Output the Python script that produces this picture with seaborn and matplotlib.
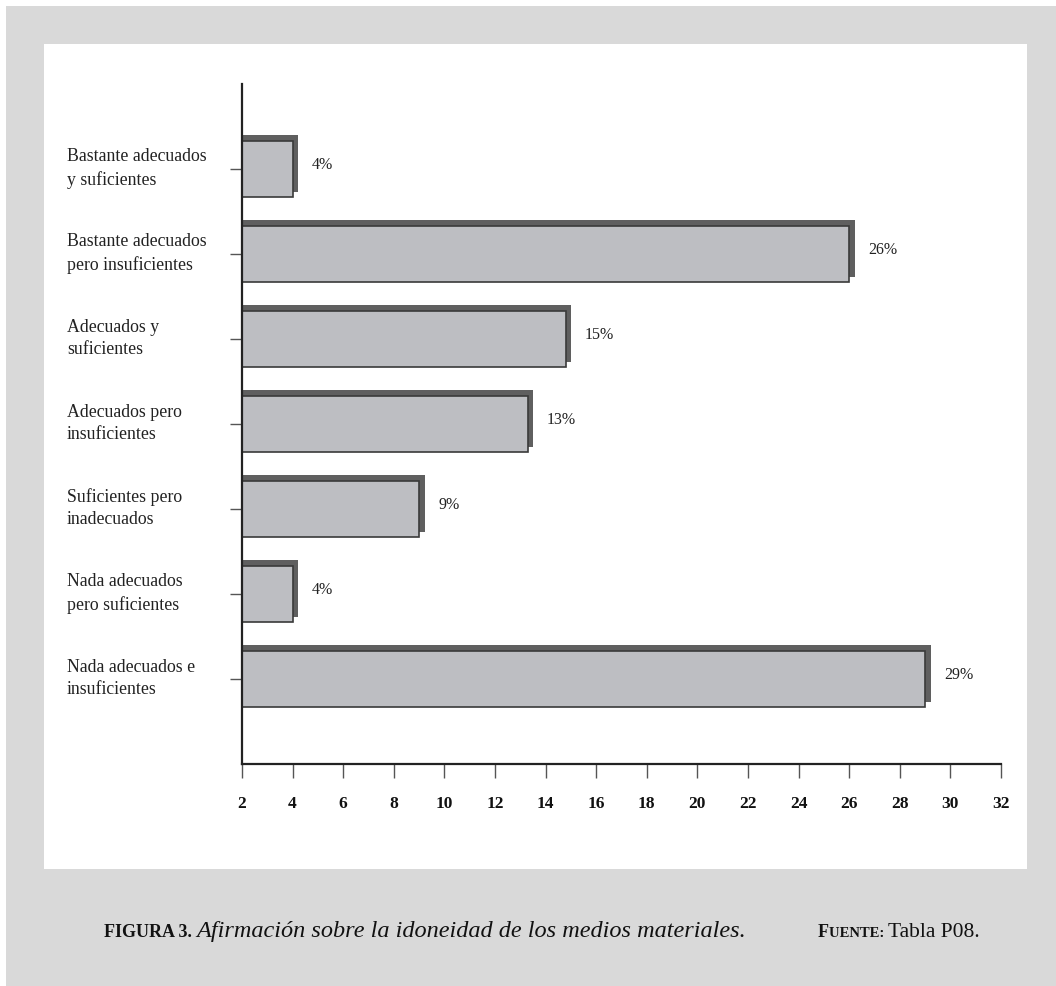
import matplotlib
matplotlib.use("Agg")
import matplotlib.pyplot as plt
import matplotlib.transforms as mtransforms
from matplotlib.patches import Rectangle
import pandas as pd
import seaborn as sns

# Data
categories = [
    "Bastante adecuados\ny suficientes",
    "Bastante adecuados\npero insuficientes",
    "Adecuados y\nsuficientes",
    "Adecuados pero\ninsuficientes",
    "Suficientes pero\ninadecuados",
    "Nada adecuados\npero suficientes",
    "Nada adecuados e\ninsuficientes",
]
bar_lengths = [4, 26, 14.8, 13.3, 9, 4, 29]
bar_labels = ["4%", "26%", "15%", "13%", "9%", "4%", "29%"]
x_ticks = [2, 4, 6, 8, 10, 12, 14, 16, 18, 20, 22, 24, 26, 28, 30, 32]

df = pd.DataFrame({"categoria": categories, "porcentaje": bar_lengths})

sns.set_style("white")
plt.rcParams["font.family"] = ["Liberation Serif", "DejaVu Serif"]

W, H = 1056, 987
fig = plt.figure(figsize=(W / 100, H / 100), dpi=100)
fig.patch.set_facecolor("white")

# Grey frame and white panel (behind the axes)
fig.patches.append(Rectangle((6 / W, 0), 1 - 6 / W, 980 / H, transform=fig.transFigure,
                             facecolor="#d9d9d9", edgecolor="none", zorder=-2))
fig.patches.append(Rectangle((44 / W, 117 / H), 983 / W, 825 / H, transform=fig.transFigure,
                             facecolor="white", edgecolor="none", zorder=-1))

ax = fig.add_axes([242 / W, 222 / H, 759 / W, 680 / H])
ax.set_facecolor("white")

# Shadow bars (shifted copy)
sns.barplot(data=df, x="porcentaje", y="categoria", orient="h", color="#5f5f5f",
            saturation=1, width=0.67, ax=ax)
offset = mtransforms.ScaledTranslation(5.5 / 100, 5.5 / 100, fig.dpi_scale_trans)
for p in ax.patches:
    p.set_transform(ax.transData + offset)
    p.set_linewidth(0)

# Main bars
sns.barplot(data=df, x="porcentaje", y="categoria", orient="h", color="#bdbec2",
            saturation=1, width=0.67, edgecolor="#3a3a3a", linewidth=1.2, ax=ax)

# Percentage labels
for i, (v, s) in enumerate(zip(bar_lengths, bar_labels)):
    ax.text(v + 0.75, i - 0.06, s, va="center", ha="left",
            fontsize=11.5, color="#222222")

ax.set_xlim(2, 32)
ax.set_ylim(7, -1)
ax.set_xticks(x_ticks)
ax.set_xticklabels([str(t) for t in x_ticks], fontsize=12.5, fontweight="bold", color="#111111")
ax.set_yticks(range(len(categories)))
ax.set_yticklabels([])

# Category labels, left aligned at the panel margin
label_x = (67 - 242) / 759
for i, cat in enumerate(categories):
    ax.text(label_x, i - 0.02, cat, transform=ax.get_yaxis_transform(), ha="left",
            va="center", fontsize=12.8, color="#222222", linespacing=1.4)

ax.tick_params(axis="x", bottom=True, direction="out", length=10, width=1,
               color="#555555", pad=12)
ax.tick_params(axis="y", left=True, direction="out", length=8.6, width=1,
               color="#555555")
ax.set_xlabel("")
ax.set_ylabel("")

for side in ["top", "right"]:
    ax.spines[side].set_visible(False)
for side in ["left", "bottom"]:
    ax.spines[side].set_color("#222222")
    ax.spines[side].set_linewidth(1.6)

# Caption, built piece by piece
fig.canvas.draw()
renderer = fig.canvas.get_renderer()
px = mtransforms.IdentityTransform()


def chain(x, y, parts):
    for s, kw in parts:
        t = fig.text(x, y, s, transform=px, va="baseline", ha="left", color="#111111", **kw)
        x = t.get_window_extent(renderer).x1
    return x


base_y = H - 937
chain(104, base_y, [
    ("FIGURA 3. ", dict(fontsize=13, fontweight="bold")),
    ("Afirmación sobre la idoneidad de los medios materiales.", dict(fontsize=17.5, style="italic")),
])
chain(818, base_y, [
    ("F", dict(fontsize=13, fontweight="bold")),
    ("UENTE: ", dict(fontsize=10.5, fontweight="bold")),
    ("Tabla P08.", dict(fontsize=15.5)),
])

fig.savefig("out.png", dpi=100)
